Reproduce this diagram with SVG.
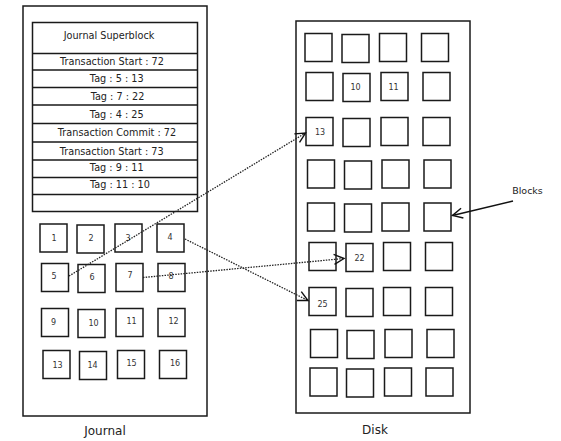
<svg xmlns="http://www.w3.org/2000/svg" width="561" height="441" viewBox="0 0 561 441">
<style>
.b{fill:#fff;stroke:#1a1a1a;stroke-width:1.5}
.row{fill:none;stroke:#1a1a1a;stroke-width:1.5}
.t{font-family:"DejaVu Sans",sans-serif;font-size:9.7px;fill:#222;text-anchor:middle}
.n{font-family:"DejaVu Sans",sans-serif;font-size:8px;fill:#333;text-anchor:middle}
.lbl{font-family:"DejaVu Sans",sans-serif;font-size:12px;fill:#222;text-anchor:middle}
.dot{fill:none;stroke:#222;stroke-width:1.3;stroke-dasharray:1.5 1.2}
.sol{fill:none;stroke:#111;stroke-width:1.4}
</style>
<defs>
<marker id="ah" markerUnits="userSpaceOnUse" markerWidth="14" markerHeight="14" viewBox="-12 -7 14 14" refX="0" refY="0" orient="auto">
<path d="M-10,-5 L0,0 L-10,5" fill="none" stroke="#111" stroke-width="1.4"/>
</marker>
</defs>
<rect width="561" height="441" fill="#fff"/>
<g id="journal">
<rect class="b" x="23" y="6" width="184" height="410"/>
<text class="lbl" x="105" y="435">Journal</text>
</g>
<g id="journal-entries">
<rect class="b" x="32.5" y="22.5" width="165" height="189"/>
<path class="row" d="M32.5,53.5H197.5M32.5,70H197.5M32.5,87.5H197.5M32.5,105H197.5M32.5,123.5H197.5M32.5,142H197.5M32.5,160H197.5M32.5,177.5H197.5M32.5,194.5H197.5"/>
<text class="t" x="109" y="39">Journal Superblock</text>
<text class="t" x="112" y="65">Transaction Start : 72</text>
<text class="t" x="116.7" y="81.5">Tag : 5 : 13</text>
<text class="t" x="117.5" y="99.5">Tag : 7 : 22</text>
<text class="t" x="116.7" y="118">Tag : 4 : 25</text>
<text class="t" x="117" y="136">Transaction Commit : 72</text>
<text class="t" x="111.7" y="154.5">Transaction Start : 73</text>
<text class="t" x="116.7" y="171">Tag : 9 : 11</text>
<text class="t" x="120" y="188">Tag : 11 : 10</text>
</g>
<g id="jb1"><rect class="b" x="40" y="224" width="27" height="28"/><text class="n" x="54" y="241">1</text></g>
<g id="jb2"><rect class="b" x="77" y="225" width="27" height="28"/><text class="n" x="91" y="241">2</text></g>
<g id="jb3"><rect class="b" x="115" y="224" width="27" height="28"/><text class="n" x="128" y="240.5">3</text></g>
<g id="jb4"><rect class="b" x="157" y="224" width="27" height="28"/><text class="n" x="170" y="239.5">4</text></g>
<g id="jb5"><rect class="b" x="41.5" y="263.5" width="27" height="28"/><text class="n" x="54" y="279">5</text></g>
<g id="jb6"><rect class="b" x="78" y="264.5" width="27" height="28"/><text class="n" x="92" y="280">6</text></g>
<g id="jb7"><rect class="b" x="116" y="263.5" width="27" height="28"/><text class="n" x="130" y="278">7</text></g>
<g id="jb8"><rect class="b" x="158" y="263.5" width="27" height="28"/><text class="n" x="171" y="279">8</text></g>
<g id="jb9"><rect class="b" x="41.5" y="308.5" width="27" height="28"/><text class="n" x="53.5" y="325">9</text></g>
<g id="jb10"><rect class="b" x="78" y="309.5" width="27" height="28"/><text class="n" x="93.5" y="325.5">10</text></g>
<g id="jb11"><rect class="b" x="116" y="308.5" width="27" height="28"/><text class="n" x="131.5" y="324">11</text></g>
<g id="jb12"><rect class="b" x="158" y="308.5" width="27" height="28"/><text class="n" x="173.5" y="324">12</text></g>
<g id="jb13"><rect class="b" x="43" y="350.5" width="27" height="28"/><text class="n" x="57.5" y="368">13</text></g>
<g id="jb14"><rect class="b" x="79.5" y="351.5" width="27" height="28"/><text class="n" x="92.5" y="368">14</text></g>
<g id="jb15"><rect class="b" x="117.5" y="350.5" width="27" height="28"/><text class="n" x="131.5" y="366">15</text></g>
<g id="jb16"><rect class="b" x="159.5" y="350.5" width="27" height="28"/><text class="n" x="175" y="366">16</text></g>
<g id="disk">
<rect class="b" x="296" y="21" width="174" height="392"/>
<text class="lbl" x="375" y="434">Disk</text>
</g>
<g id="disk-blocks">
<rect class="b" x="305" y="33.5" width="27" height="28"/>
<rect class="b" x="342" y="34.5" width="27" height="28"/>
<rect class="b" x="379.5" y="33.5" width="27" height="28"/>
<rect class="b" x="421.5" y="33.5" width="27" height="28"/>
<rect class="b" x="306" y="72.5" width="27" height="28"/>
<rect class="b" x="423" y="72.5" width="27" height="28"/>
<rect class="b" x="343" y="118.5" width="27" height="28"/>
<rect class="b" x="381" y="117.5" width="27" height="28"/>
<rect class="b" x="423" y="117.5" width="27" height="28"/>
<rect class="b" x="307.5" y="160" width="27" height="28"/>
<rect class="b" x="344.5" y="161" width="27" height="28"/>
<rect class="b" x="382" y="160" width="27" height="28"/>
<rect class="b" x="424" y="160" width="27" height="28"/>
<rect class="b" x="307.5" y="203" width="27" height="28"/>
<rect class="b" x="344.5" y="204" width="27" height="28"/>
<rect class="b" x="382" y="203" width="27" height="28"/>
<rect class="b" x="424" y="203" width="27" height="28"/>
<rect class="b" x="309" y="242.5" width="27" height="28"/>
<rect class="b" x="383.5" y="242.5" width="27" height="28"/>
<rect class="b" x="425.5" y="242.5" width="27" height="28"/>
<rect class="b" x="346" y="288.5" width="27" height="28"/>
<rect class="b" x="383.5" y="287.5" width="27" height="28"/>
<rect class="b" x="425.5" y="287.5" width="27" height="28"/>
<rect class="b" x="310.5" y="329.5" width="27" height="28"/>
<rect class="b" x="347" y="330.5" width="27" height="28"/>
<rect class="b" x="385" y="329.5" width="27" height="28"/>
<rect class="b" x="427" y="329.5" width="27" height="28"/>
<rect class="b" x="310" y="368" width="27" height="28"/>
<rect class="b" x="346.5" y="369" width="27" height="28"/>
<rect class="b" x="384.5" y="368" width="27" height="28"/>
<rect class="b" x="426" y="368" width="27" height="28"/>
</g>
<g id="db10"><rect class="b" x="343" y="73.5" width="27" height="28"/><text class="n" x="355.5" y="90">10</text></g>
<g id="db11"><rect class="b" x="381" y="72.5" width="27" height="28"/><text class="n" x="393.5" y="90">11</text></g>
<g id="db13"><rect class="b" x="306" y="117.5" width="27" height="28"/><text class="n" x="320" y="135">13</text></g>
<g id="db22"><rect class="b" x="346" y="243.5" width="27" height="28"/><text class="n" x="359.5" y="260.5">22</text></g>
<g id="db25"><rect class="b" x="309" y="287.5" width="27" height="28"/><text class="n" x="322.5" y="306.5">25</text></g>
<g id="blocks-label">
<text class="t" x="527.5" y="193.5" style="font-size:9.5px">Blocks</text>
</g>
<g id="connectors">
<path class="dot" d="M69,276 L305.5,133" marker-end="url(#ah)"/>
<path class="dot" d="M143,277.5 L344,258.5" marker-end="url(#ah)"/>
<path class="dot" d="M185,239 L308,300.5" marker-end="url(#ah)"/>
<path class="sol" d="M513,201 L452.5,215.5" marker-end="url(#ah)"/>
</g>
</svg>
